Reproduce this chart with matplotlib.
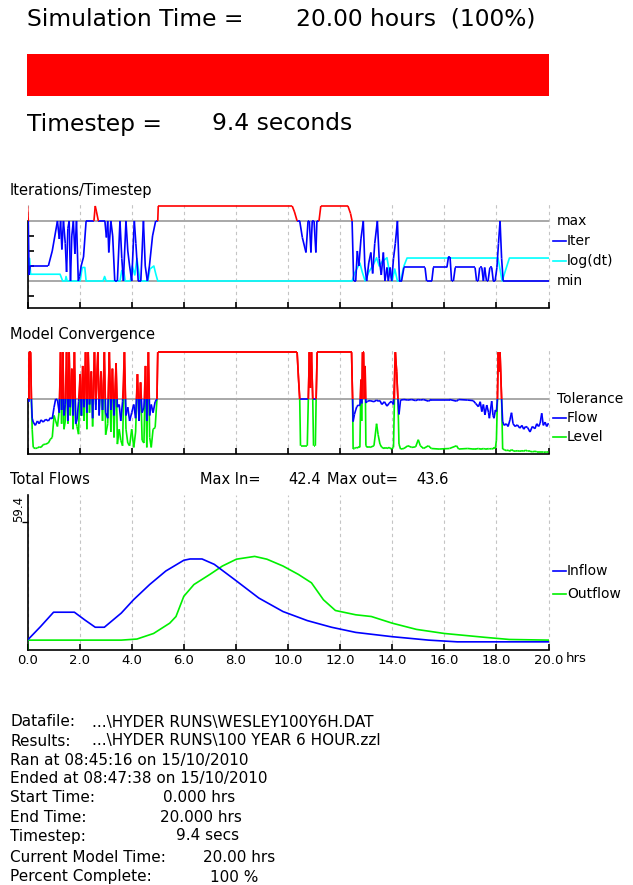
import numpy as np
import matplotlib
matplotlib.use('Agg')
import matplotlib.pyplot as plt
from matplotlib.collections import LineCollection
from matplotlib.transforms import blended_transform_factory

plt.rcParams['font.family'] = ['DejaVu Sans']

# run summary
sim_hours = 20.0
percent_done = 100
timestep_s = 9.4
flow_axis_max = 59.4
iter_min, iter_max = 2, 6
tolerance = 1.0

# iterations per timestep (values above iter_max = not converged)
iter_t = [0.00, 0.03, 0.06, 0.10, 0.80, 0.95, 1.15, 1.22, 1.27, 1.32, 1.38, 1.45, 1.50, 1.55,
          1.60, 1.65, 1.70, 1.76, 1.82, 1.88, 1.95, 2.00, 2.06, 2.15, 2.25, 2.55, 2.60, 2.65,
          2.72, 2.97, 3.03, 3.08, 3.12, 3.20, 3.27, 3.35, 3.45, 3.55, 3.62, 3.68, 3.78, 3.85,
          3.92, 4.00, 4.10, 4.16, 4.25, 4.35, 4.45, 4.52, 4.60, 4.68, 4.80, 4.92, 5.00, 5.02,
          10.16, 10.25, 10.35, 10.45, 10.55, 10.69, 10.77, 10.82, 10.88, 10.93, 11.00, 11.07,
          11.11, 11.19, 11.26, 12.30, 12.40, 12.46, 12.52, 12.60, 12.66, 12.72, 12.80, 12.89,
          12.95, 13.02, 13.10, 13.18, 13.25, 13.33, 13.43, 13.50, 13.58, 13.66, 13.72, 13.80,
          13.85, 13.92, 13.98, 14.05, 14.12, 14.20, 14.28, 14.36, 14.45, 15.26, 15.32, 15.52,
          15.58, 16.10, 16.16, 16.22, 16.28, 16.35, 16.42, 17.18, 17.24, 17.30, 17.36, 17.44,
          17.50, 17.55, 17.62, 17.68, 17.75, 17.82, 17.88, 17.95, 18.02, 18.08, 18.14, 18.20,
          18.26, 20.00]
iter_n = [7.0, 6.0, 2.4, 3.0, 3.0, 4.0, 6.0, 4.8, 6.0, 4.1, 6.0, 4.5, 2.6, 5.5,
          6.0, 2.0, 5.0, 6.0, 3.8, 6.0, 2.0, 2.3, 3.0, 3.6, 6.0, 6.0, 7.0, 6.6,
          6.0, 6.0, 4.9, 6.0, 3.9, 6.0, 5.0, 2.0, 2.0, 6.0, 3.5, 2.0, 6.0, 4.0,
          3.0, 2.0, 6.0, 4.5, 2.0, 2.0, 6.0, 3.0, 2.0, 3.0, 5.0, 6.0, 6.0, 7.0,
          7.0, 6.6, 6.0, 6.0, 4.9, 3.9, 6.0, 6.0, 3.9, 6.0, 6.0, 3.9,
          6.0, 6.0, 7.0, 7.0, 6.5, 6.0, 2.0, 2.0, 4.0, 3.0, 4.8, 6.0,
          3.0, 2.0, 3.2, 3.9, 2.5, 4.5, 6.0, 3.5, 2.4, 3.9, 2.0, 2.9,
          2.0, 2.9, 2.0, 3.5, 4.5, 6.0, 2.0, 2.0, 2.9, 2.9, 2.0, 2.0,
          2.9, 2.9, 3.6, 3.6, 2.0, 2.0, 2.9, 2.9, 2.0, 2.0, 2.9, 2.9,
          2.0, 2.9, 2.0, 2.0, 2.9, 2.9, 2.0, 2.0, 2.9, 4.5, 6.0, 3.5,
          2.0, 2.0]

# log(dt) on the same scale
logdt_t = [0.00, 0.08, 0.12, 1.25, 1.35, 1.45, 1.48, 1.52, 2.02, 2.10, 2.20, 2.25, 2.90, 2.96,
           3.02, 3.55, 3.62, 3.70, 3.75, 3.95, 4.02, 4.12, 4.20, 4.28, 4.33, 4.62, 4.70, 4.85,
           4.92, 5.00, 12.46, 12.55, 12.76, 12.85, 12.96, 13.10, 13.25, 13.40, 13.50, 13.62,
           13.80, 13.90, 14.00, 14.10, 14.20, 14.32, 14.45, 14.57, 18.06, 18.22, 18.50, 20.00]
logdt_v = [3.5, 3.5, 2.45, 2.45, 2.0, 2.0, 2.3, 2.0, 2.0, 2.9, 2.9, 2.0, 2.0, 2.3,
           2.0, 2.0, 2.7, 2.6, 2.0, 2.0, 3.0, 2.4, 3.5, 2.5, 2.0, 2.0, 2.8, 3.0,
           2.5, 2.0, 2.0, 2.5, 3.2, 2.6, 2.0, 2.6, 3.0, 3.55, 3.0, 3.3,
           3.55, 2.5, 2.0, 2.8, 2.0, 2.0, 3.0, 3.53, 3.53, 2.0, 3.53, 3.53]

# convergence: time, flow error, level error (relative to tolerance)
conv_t = [0.00, 0.05, 0.07, 0.12, 0.15, 0.18, 0.22, 0.30, 0.38, 0.45, 0.52, 0.60, 0.70, 0.80,
          0.88, 0.95, 1.02, 1.08, 1.15, 1.22, 1.27, 1.31, 1.36, 1.40, 1.45, 1.50, 1.55, 1.60,
          1.64, 1.70, 1.75, 1.80, 1.85, 1.90, 1.96, 2.02, 2.07, 2.12, 2.17, 2.23, 2.28, 2.33,
          2.38, 2.45, 2.50, 2.57, 2.62, 2.70, 2.75, 2.82, 2.88, 2.95, 3.00, 3.08, 3.14, 3.20,
          3.26, 3.32, 3.40, 3.45, 3.52, 3.58, 3.65, 3.72, 3.78, 3.85, 3.92, 4.00, 4.08, 4.15,
          4.22, 4.28, 4.34, 4.40, 4.47, 4.53, 4.58, 4.64, 4.69, 4.75, 4.82, 4.90, 4.97, 5.00,
          10.35, 10.40, 10.45, 10.48, 10.74, 10.78, 10.82, 10.86, 10.90, 10.95, 10.98, 11.05,
          11.08, 11.12, 12.44, 12.46, 12.48, 12.50, 12.55, 12.60, 12.64, 12.70, 12.76, 12.80,
          12.83, 12.86, 12.90, 12.93, 12.96, 12.99, 13.05, 13.15, 13.30, 13.40, 13.46, 13.53,
          13.60, 13.70, 13.80, 13.88, 13.97, 14.05, 14.12, 14.17, 14.22, 14.26, 14.32, 14.45,
          14.60, 14.75, 14.90, 15.00, 15.08, 15.20, 15.39, 15.50, 15.80, 16.20, 16.47, 16.55,
          16.90, 17.11, 17.20, 17.31, 17.38, 17.44, 17.50, 17.56, 17.63, 17.70, 17.73, 17.82,
          17.87, 17.91, 17.96, 18.00, 18.04, 18.07, 18.11, 18.14, 18.20, 18.24, 18.30, 18.38,
          18.45, 18.52, 18.58, 18.64, 18.72, 18.80, 18.90, 18.98, 19.05, 19.12, 19.20, 19.29,
          19.38, 19.48, 19.55, 19.62, 19.68, 19.74, 19.80, 19.87, 19.93, 20.00]
conv_flow = [1.85, 0.95, 1.85, 1.85, 1.00, 0.65, 0.58, 0.52, 0.60, 0.55, 0.62, 0.58, 0.63, 0.60,
             0.66, 0.64, 0.85, 1.00, 0.98, 0.75, 1.85, 0.80, 1.85, 0.70, 0.90, 1.85, 0.60, 1.85,
             0.85, 1.55, 0.70, 1.85, 0.55, 0.62, 0.95, 1.45, 0.70, 1.60, 0.85, 1.85, 0.75, 1.85,
             0.90, 1.50, 0.65, 1.85, 0.80, 1.85, 0.70, 1.50, 0.80, 1.85, 0.75, 0.65, 1.85, 0.80,
             1.55, 0.70, 1.65, 0.85, 0.90, 0.60, 0.95, 1.85, 0.70, 0.85, 0.60, 0.75, 0.90, 0.65,
             1.45, 0.60, 1.30, 0.75, 0.85, 1.60, 0.60, 1.85, 0.70, 0.90, 0.75, 0.95, 1.00, 1.85,
             1.85, 1.40, 1.00, 1.00, 1.00, 1.00, 1.85, 1.20, 1.85, 1.00, 1.00, 1.00,
             1.00, 1.85, 1.85, 1.40, 1.00, 0.59, 0.72, 0.80, 0.86, 0.89, 0.88, 1.35,
             0.92, 1.85, 1.85, 1.00, 1.60, 0.93, 0.96, 0.97, 0.95, 0.98, 0.96, 0.97,
             0.90, 0.95, 0.87, 0.92, 0.96, 0.90, 1.85, 1.50, 1.00, 0.72, 0.98, 0.99,
             0.98, 0.99, 0.97, 0.99, 0.98, 0.99, 0.96, 0.99, 0.99, 0.99, 0.96, 0.99,
             0.98, 0.97, 0.92, 0.86, 0.95, 0.77, 0.90, 0.71, 0.89, 0.75, 0.65, 0.96,
             0.70, 0.65, 0.80, 0.77, 1.00, 1.85, 1.50, 1.85, 1.00, 0.59, 0.52, 0.55,
             0.50, 0.62, 0.75, 0.55, 0.50, 0.53, 0.47, 0.52, 0.45, 0.50, 0.48, 0.40,
             0.50, 0.46, 0.55, 0.50, 0.56, 0.74, 0.52, 0.58, 0.50, 0.56]
conv_level = [1.85, 0.98, 1.85, 1.85, 1.00, 0.45, 0.12, 0.10, 0.11, 0.13, 0.12, 0.17, 0.18, 0.20,
              0.27, 0.30, 0.70, 0.60, 0.50, 0.80, 1.85, 0.55, 1.85, 0.45, 0.60, 1.85, 0.55, 1.85,
              0.70, 1.55, 0.45, 1.85, 0.60, 0.50, 0.36, 1.45, 0.69, 1.60, 0.60, 1.85, 0.45, 1.85,
              0.75, 1.50, 0.50, 1.85, 0.90, 1.85, 0.80, 1.50, 0.60, 1.85, 0.35, 0.55, 1.85, 0.40,
              1.55, 0.30, 1.65, 0.18, 0.45, 0.25, 0.15, 1.85, 0.45, 0.20, 0.15, 0.45, 0.12, 0.40,
              1.45, 0.60, 1.30, 0.25, 0.20, 1.60, 0.12, 1.85, 0.30, 0.12, 0.45, 0.48, 1.00, 1.85,
              1.85, 1.40, 1.00, 0.15, 0.15, 1.00, 1.85, 1.20, 1.85, 1.00, 0.15, 0.15,
              1.00, 1.85, 1.85, 1.40, 1.00, 0.09, 0.10, 0.12, 0.11, 0.12, 0.12, 1.35,
              0.60, 1.85, 1.85, 1.00, 1.60, 0.15, 0.12, 0.12, 0.15, 0.55, 0.35, 0.18,
              0.12, 0.10, 0.10, 0.12, 0.09, 0.12, 1.85, 1.50, 1.00, 0.18, 0.09, 0.10,
              0.15, 0.12, 0.13, 0.26, 0.15, 0.10, 0.15, 0.10, 0.09, 0.10, 0.15, 0.09,
              0.10, 0.09, 0.09, 0.10, 0.09, 0.09, 0.10, 0.09, 0.09, 0.10, 0.09, 0.10,
              0.09, 0.12, 0.10, 0.25, 1.00, 1.85, 1.50, 1.85, 1.00, 0.09, 0.08, 0.06,
              0.07, 0.05, 0.08, 0.06, 0.05, 0.06, 0.05, 0.06, 0.05, 0.07, 0.05, 0.05,
              0.04, 0.05, 0.04, 0.04, 0.04, 0.04, 0.04, 0.03, 0.04, 0.03]

# total flows
inflow_t = [0.0, 0.5, 1.0, 1.8, 2.2, 2.6, 2.95, 3.6, 4.07, 4.69, 5.31, 6.0, 6.24, 6.7, 7.17,
            7.94, 8.88, 9.81, 10.74, 11.67, 12.6, 14.0, 15.4, 16.5, 20.0]
inflow = [4.6, 10.9, 17.6, 17.6, 14.0, 10.6, 10.6, 17.2, 23.4, 30.5, 36.8, 41.8, 42.4, 42.4, 39.9,
          32.9, 24.2, 17.9, 13.7, 10.6, 8.2, 6.2, 4.6, 3.8, 3.8]
outflow_t = [0.0, 0.0, 3.6, 4.2, 4.84, 5.46, 5.7, 6.0, 6.39, 7.0, 7.48, 8.02, 8.72, 9.19, 9.81,
             10.4, 10.9, 11.36, 11.82, 12.6, 13.2, 14.0, 14.93, 16.0, 17.56, 18.5, 20.0]
outflow = [0.0, 4.6, 4.6, 5.1, 7.7, 12.5, 15.6, 25.0, 30.5, 35.2, 39.1, 42.3, 43.6, 42.3, 39.1,
           35.2, 31.3, 23.4, 18.4, 16.4, 15.6, 12.5, 9.6, 7.7, 5.9, 4.9, 4.6]

hour_ticks = np.arange(0, 21, 2)
W, H = 633, 885
GRAY = '#a8a8a8'
BLUE = '#0000ff'
RED = '#ff0000'
CYAN = '#00ffff'
GREEN = '#00f000'
X0, X1 = 27.5, 548.5

fig = plt.figure(figsize=(W / 100, H / 100), dpi=100)


def box(left, top, right, bottom):
    return fig.add_axes([left / W, 1 - bottom / H, (right - left) / W, (bottom - top) / H])


def put(x, y, s, size, **kw):
    fig.text(x / W, 1 - y / H, s, fontsize=size, va='center', ha='left', **kw)


def split_line(ax, t, v, limit, low_color, high_color, lw=1.2, z=4):
    # colour the part of the trace above the limit differently
    low, high = [], []
    for x0, y0, x1, y1 in zip(t[:-1], v[:-1], t[1:], v[1:]):
        if (y0 - limit) * (y1 - limit) < 0:
            xc = x0 + (limit - y0) * (x1 - x0) / (y1 - y0)
            (high if y0 > limit else low).append([(x0, y0), (xc, limit)])
            (high if y1 > limit else low).append([(xc, limit), (x1, y1)])
        elif max(y0, y1) > limit:
            high.append([(x0, y0), (x1, y1)])
        else:
            low.append([(x0, y0), (x1, y1)])
    ax.add_collection(LineCollection(low, colors=low_color, linewidths=lw, zorder=z))
    ax.add_collection(LineCollection(high, colors=high_color, linewidths=lw, zorder=z + 1))


def time_axis(ax, labels=False):
    ax.set_xlim(0, 20)
    ax.set_xticks(hour_ticks)
    ax.grid(axis='x', color='#c4c4c4', linestyle=(0, (3, 3)), linewidth=0.8)
    for gl in ax.get_xgridlines():
        gl.set_clip_on(False)
    ax.set_axisbelow(True)
    for s in ('top', 'right'):
        ax.spines[s].set_visible(False)
    for s in ('left', 'bottom'):
        ax.spines[s].set_linewidth(1.2)
    ax.tick_params(axis='x', direction='in', length=4, width=1.2,
                   labelbottom=labels, labelsize=9.5, pad=3)
    ax.set_facecolor('none')


def side_label(ax, y, text, color=None):
    tr = blended_transform_factory(ax.transAxes, ax.transData)
    f = lambda px: (px - X0) / (X1 - X0)
    if color:
        ax.plot([f(553), f(566)], [y, y], color=color, lw=1.2, transform=tr, clip_on=False)
        ax.text(f(567), y, text, transform=tr, fontsize=10, va='center')
    else:
        ax.text(f(557), y, text, transform=tr, fontsize=10, va='center')


# header and progress bar
put(27, 19, 'Simulation Time =', 16.8)
put(296, 19, f'{sim_hours:.2f} hours  ({percent_done:.0f}%)', 16.8)
bar_ax = box(27, 54, 549, 96)
bar_ax.barh(0, percent_done, height=1, color=RED)
bar_ax.set_xlim(0, 100)
bar_ax.set_ylim(-0.5, 0.5)
bar_ax.axis('off')
put(27, 124, 'Timestep =', 16.8)
put(212, 124, f'{timestep_s:.1f} seconds', 16.8)

# iterations / timestep
put(10, 190, 'Iterations/Timestep', 10.5)
ax1 = box(X0, 204, X1, 308)
time_axis(ax1)
ax1.set_ylim(0.2, 7.13)
ax1.axhline(iter_max, color=GRAY, lw=1.4, zorder=2)
ax1.axhline(iter_min, color=GRAY, lw=1.4, zorder=2)
ax1.plot(logdt_t, logdt_v, color=CYAN, lw=1.2, zorder=3)
split_line(ax1, iter_t, iter_n, iter_max, BLUE, RED)
ax1.spines['left'].set_bounds(0.2, iter_max)
ax1.set_yticks([1, 3, 4, 5])
ax1.tick_params(axis='y', direction='in', length=4, width=1.2, labelleft=False)
side_label(ax1, iter_max, 'max')
side_label(ax1, 4.67, 'Iter', BLUE)
side_label(ax1, 3.33, 'log(dt)', CYAN)
side_label(ax1, iter_min, 'min')

# model convergence
put(10, 335, 'Model Convergence', 10.5)
ax2 = box(X0, 350, X1, 454)
time_axis(ax2)
ax2.set_ylim(0, 1.89)
ax2.axhline(tolerance, color=GRAY, lw=1.4, zorder=2)
split_line(ax2, conv_t, conv_level, tolerance, GREEN, RED, z=3)
split_line(ax2, conv_t, conv_flow, tolerance, BLUE, RED, z=4)
ax2.spines['left'].set_bounds(0, tolerance)
ax2.set_yticks([])
side_label(ax2, tolerance, 'Tolerance')
side_label(ax2, 0.65, 'Flow', BLUE)
side_label(ax2, 0.31, 'Level', GREEN)

# total flows
put(10, 479, 'Total Flows', 10.5)
put(200, 479, 'Max In=', 10.5)
put(288, 479, f'{max(inflow):.1f}', 10.5)
put(327, 479, 'Max out=', 10.5)
put(416, 479, f'{max(outflow):.1f}', 10.5)
ax3 = box(X0, 495, X1, 650)
time_axis(ax3, labels=True)
ax3.set_ylim(0, 72.2)
ax3.plot(inflow_t, inflow, color=BLUE, lw=1.2, zorder=4)
ax3.plot(outflow_t, outflow, color=GREEN, lw=1.2, zorder=3)
ax3.set_xticklabels([f'{h:.1f}' for h in hour_ticks])
ax3.set_yticks([flow_axis_max])
ax3.tick_params(axis='y', direction='out', length=4, width=1.0, labelleft=False)
ax3.text(-0.017, flow_axis_max, f'{flow_axis_max:.1f}', rotation=90, fontsize=8.5,
         ha='center', va='bottom',
         transform=blended_transform_factory(ax3.transAxes, ax3.transData))
put(566, 659, 'hrs', 9.5)
side_label(ax3, 36.8, 'Inflow', BLUE)
side_label(ax3, 26.1, 'Outflow', GREEN)

# run details
info_left = ['Datafile:', 'Results:', 'Ran at 08:45:16 on 15/10/2010',
             'Ended at 08:47:38 on 15/10/2010', 'Start Time:', 'End Time:', 'Timestep:',
             'Current Model Time:', 'Percent Complete:']
info_right = ['...\\HYDER RUNS\\WESLEY100Y6H.DAT', '...\\HYDER RUNS\\100 YEAR 6 HOUR.zzl', '', '',
              '0.000 hrs', f'{sim_hours:.3f} hrs', f'{timestep_s:.1f} secs',
              f'{sim_hours:.2f} hrs', f'{percent_done} %']
info_y = [722, 741, 760, 779, 798, 817, 836, 857, 877]
info_x = [92, 92, 0, 0, 163, 160, 176, 203, 210]
for lt, rt, y, x in zip(info_left, info_right, info_y, info_x):
    put(10, y, lt, 11)
    if rt:
        put(x, y, rt, 11)

fig.savefig('out.png', dpi=100, facecolor='white')
